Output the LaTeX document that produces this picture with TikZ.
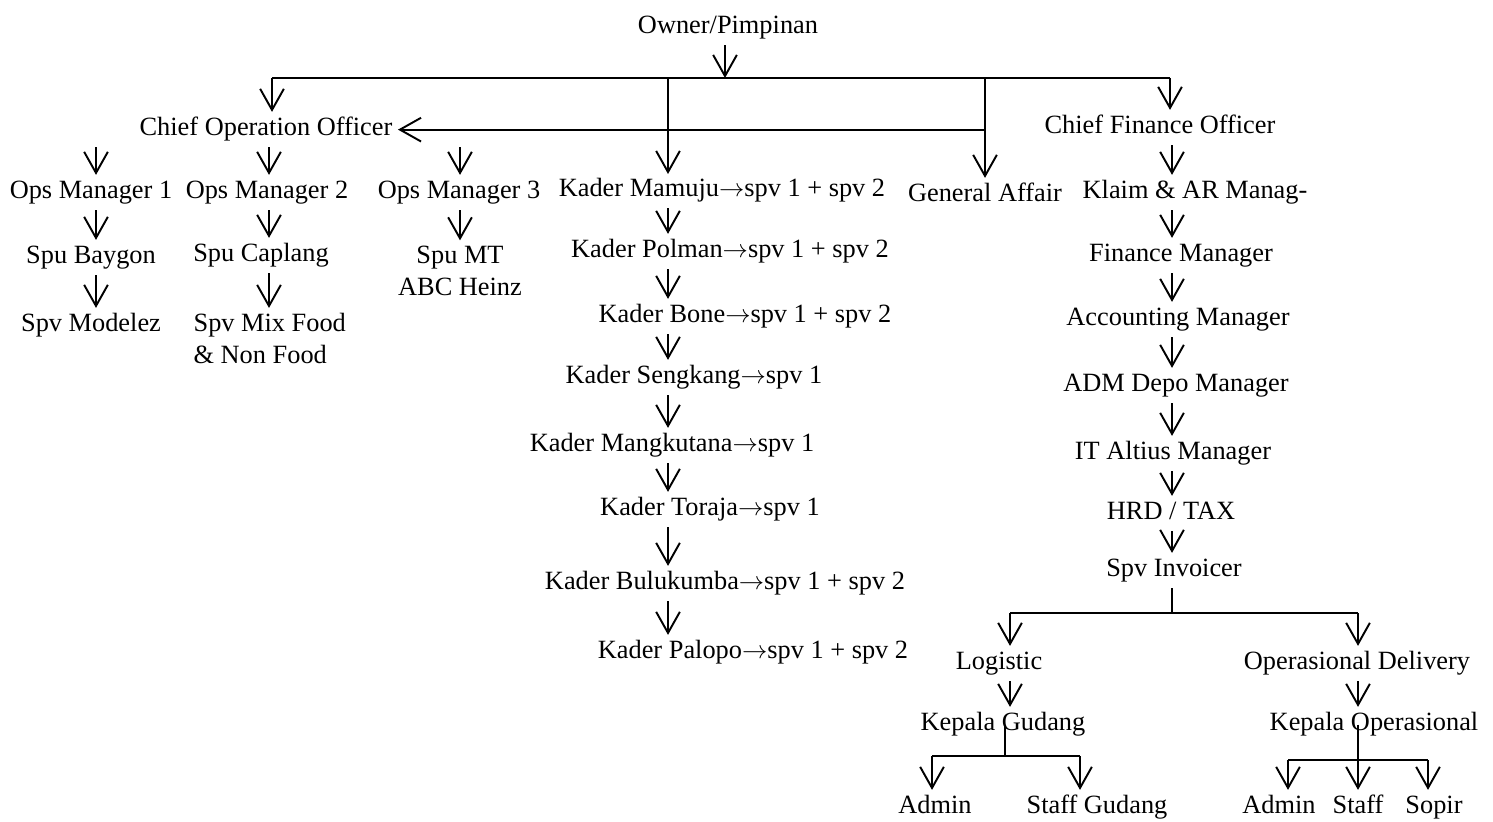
\documentclass[tikz,border=0pt]{standalone}
\usepackage{fontspec}
\setmainfont{Liberation Serif}
\usetikzlibrary{arrows.meta}

\tikzset{
  lbl/.style={inner sep=3pt, text height=10.5pt, text depth=3.3pt, yshift=-1.5pt},
  lbltwo/.style={inner sep=3pt, yshift=-1.5pt},
  arr/.style={line width=1.1pt, -{Straight Barb[length=12pt,width=13.5pt]}},
  wire/.style={line width=1.1pt}
}
\newcommand{\goesto}{\(\rightarrow\)}

\begin{document}
\begin{tikzpicture}[x=0.02cm, y=-0.02cm, font=\fontsize{15pt}{18pt}\selectfont]
\useasboundingbox (0,0) rectangle (1493,821);

% Top of the chart
\node[lbl] (owner) at (728,25) {Owner/Pimpinan};
\coordinate (busL) at (272,78);
\coordinate (busR) at (1170,78);
\coordinate (kx) at (668,78);
\coordinate (gx) at (985,78);
\coordinate (fx) at (1172,78);

% Second level
\node[lbl] (coo) at (266,127) {Chief Operation Officer};
\node[lbl] (cfo) at (1160,125) {Chief Finance Officer};
\node[lbl] (ga) at (985,193) {General Affair};

% Owner to the bus
\draw[arr] (owner.south -| 725,0) -- (busL -| 725,0);
\draw[wire] (busL) -- (busR);
\draw[arr] (busL) -- (coo.north -| busL);
\draw[arr] (busR) -- (cfo.north -| busR);
\draw[arr] (kx) -- (kx |- 0,174);
\draw[arr] (gx) -- (ga.north -| gx);
\draw[arr] (coo.east -| gx) -- (coo.east);

% Operation side
\coordinate (c1) at (96,0);
\coordinate (c2) at (269,0);
\coordinate (c3) at (460,0);
\node[lbl] (om1) at (91,190) {Ops Manager 1};
\node[lbl] (om2) at (267,190) {Ops Manager 2};
\node[lbl] (om3) at (459,190) {Ops Manager 3};
\node[lbl] (spubay) at (91,255) {Spu Baygon};
\node[lbl] (spucap) at (261,253) {Spu Caplang};
\node[lbltwo, align=center] (spumt) at (460,268) {Spu MT\\ABC Heinz};
\node[lbl] (spvmod) at (91,323) {Spv Modelez};
\node[lbltwo, align=left, anchor=west] (spvmix) at (188,336) {Spv Mix Food\\\& Non Food};

\draw[arr] (coo.south -| c1) -- (om1.north -| c1);
\draw[arr] (coo.south -| c2) -- (om2.north -| c2);
\draw[arr] (coo.south -| c3) -- (om3.north -| c3);
\draw[arr] (om1.south -| c1) -- (spubay.north -| c1);
\draw[arr] (om2.south -| c2) -- (spucap.north -| c2);
\draw[arr] (om3.south -| c3) -- (spumt.north -| c3);
\draw[arr] (spubay.south -| c1) -- (spvmod.north -| c1);
\draw[arr] (spucap.south -| c2) -- (spvmix.north -| c2);

% Kader column
\node[lbl] (mamuju) at (722,188) {Kader Mamuju\goesto spv 1 + spv 2};
\node[lbl] (polman) at (730,249) {Kader Polman\goesto spv 1 + spv 2};
\node[lbl] (bone) at (745,314) {Kader Bone\goesto spv 1 + spv 2};
\node[lbl] (sengkang) at (694,375) {Kader Sengkang\goesto spv 1};
\node[lbl] (mangkutana) at (672,443) {Kader Mangkutana\goesto spv 1};
\node[lbl] (toraja) at (710,507) {Kader Toraja\goesto spv 1};
\node[lbl] (bulukumba) at (725,581) {Kader Bulukumba\goesto spv 1 + spv 2};
\node[lbl] (palopo) at (753,650) {Kader Palopo\goesto spv 1 + spv 2};

\foreach \a/\b in {mamuju/polman, polman/bone, bone/sengkang, sengkang/mangkutana,
                   mangkutana/toraja, toraja/bulukumba, bulukumba/palopo}
  \draw[arr] (\a.south -| kx) -- (\b.north -| kx);

% Finance column
\node[lbl] (klaim) at (1195,190) {Klaim \& AR Manag-};
\node[lbl] (finman) at (1181,253) {Finance Manager};
\node[lbl] (accman) at (1178,317) {Accounting Manager};
\node[lbl] (admdepo) at (1176,383) {ADM Depo Manager};
\node[lbl] (itman) at (1173,451) {IT Altius Manager};
\node[lbl] (hrd) at (1171,511) {HRD / TAX};
\node[lbl] (inv) at (1174,568) {Spv Invoicer};

\foreach \a/\b in {cfo/klaim, klaim/finman, finman/accman, accman/admdepo,
                   admdepo/itman, itman/hrd, hrd/inv}
  \draw[arr] (\a.south -| fx) -- (\b.north -| fx);

% Below Spv Invoicer
\coordinate (invL) at (1010,613);
\coordinate (invR) at (1358,613);
\node[lbl] (logi) at (999,661) {Logistic};
\node[lbl] (opdel) at (1357,661) {Operasional Delivery};
\node[lbl] (kgud) at (1003,722) {Kepala Gudang};
\node[lbl] (kop) at (1374,722) {Kepala Operasional};

\draw[wire] (inv.south -| fx) -- (invL -| fx);
\draw[wire] (invL) -- (invR);
\draw[arr] (invL) -- (logi.north -| invL);
\draw[arr] (invR) -- (opdel.north -| invR);
\draw[arr] (logi.south -| invL) -- (kgud.north -| invL);
\draw[arr] (opdel.south -| invR) -- (kop.north -| invR);

% Warehouse staff
\coordinate (gL) at (932,756);
\coordinate (gM) at (1005,756);
\coordinate (gR) at (1080,756);
\node[lbl] (admin1) at (935,805) {Admin};
\node[lbl] (stgud) at (1097,805) {Staff Gudang};
\draw[wire] (kgud.center -| gM) -- (gM);
\draw[wire] (gL) -- (gR);
\draw[arr] (gL) -- (admin1.north -| gL);
\draw[arr] (gR) -- (stgud.north -| gR);

% Delivery staff
\coordinate (oL) at (1288,760);
\coordinate (oM) at (1358,760);
\coordinate (oR) at (1428,760);
\node[lbl] (admin2) at (1279,805) {Admin};
\node[lbl] (staff) at (1358,805) {Staff};
\node[lbl] (sopir) at (1434,805) {Sopir};
\draw[wire] (kop.center -| oM) -- (oM);
\draw[wire] (oL) -- (oR);
\draw[arr] (oL) -- (admin2.north -| oL);
\draw[arr] (oM) -- (staff.north -| oM);
\draw[arr] (oR) -- (sopir.north -| oR);

\end{tikzpicture}
\end{document}
